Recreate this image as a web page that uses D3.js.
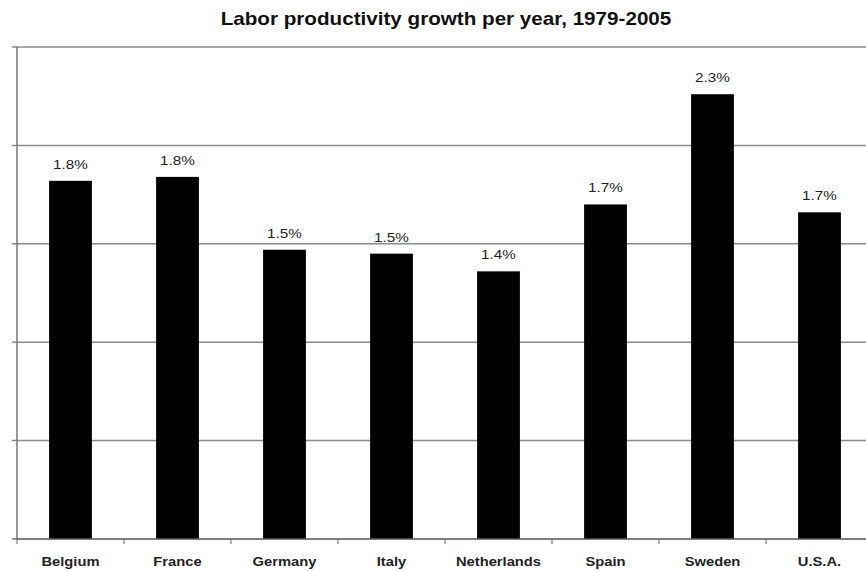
<!DOCTYPE html>
<html>
<head>
<meta charset="utf-8">
<script src="https://cdn.jsdelivr.net/npm/d3@7"></script>
<style>
  body { margin: 0; background: #fff; }
  text { font-family: Arial, "Liberation Sans", sans-serif; }
</style>
</head>
<body>
<div id="chart"></div>
<script>
var width = 866, height = 571;
var countries = ['Belgium', 'France', 'Germany', 'Italy', 'Netherlands', 'Spain', 'Sweden', 'U.S.A.'];
var growth = [1.82, 1.84, 1.47, 1.45, 1.36, 1.70, 2.26, 1.66];
var labels = ['1.8%', '1.8%', '1.5%', '1.5%', '1.4%', '1.7%', '2.3%', '1.7%'];
var yTicks = [0, 0.5, 1, 1.5, 2, 2.5];

var svg = d3.select('#chart')
  .append('svg')
  .attr('width', width)
  .attr('height', height);

var xScale = d3.scaleBand()
  .domain(countries)
  .range([17, 873])
  .paddingInner(0.6)
  .paddingOuter(0.3);

var yScale = d3.scaleLinear()
  .domain([0, 2.5])
  .range([539, 47]);

// the picture's text is a bit wider than plain Arial
function stretch(x, y, s) {
  return 'translate(' + x + ',' + y + ') scale(' + s + ',1)';
}

// gridlines
svg.selectAll('.grid')
  .data(yTicks.slice(1))
  .enter()
  .append('line')
  .attr('x1', 12)
  .attr('x2', width)
  .attr('y1', function (d) { return yScale(d); })
  .attr('y2', function (d) { return yScale(d); })
  .attr('stroke', '#8a8a8a')
  .attr('stroke-width', 1.5);

// y axis line + ticks
svg.append('line')
  .attr('x1', 17).attr('x2', 17)
  .attr('y1', yScale(2.5)).attr('y2', yScale(0))
  .attr('stroke', '#777')
  .attr('stroke-width', 1.5);

svg.append('line')
  .attr('x1', 12).attr('x2', 17)
  .attr('y1', yScale(0)).attr('y2', yScale(0))
  .attr('stroke', '#777')
  .attr('stroke-width', 1.5);

// bars
svg.selectAll('.bar')
  .data(countries)
  .enter()
  .append('rect')
  .attr('x', function (d) { return xScale(d); })
  .attr('y', function (d, i) { return yScale(growth[i]); })
  .attr('width', xScale.bandwidth())
  .attr('height', function (d, i) { return yScale(0) - yScale(growth[i]); })
  .attr('fill', '#000');

// x axis baseline and category ticks
svg.append('line')
  .attr('x1', 17).attr('x2', width)
  .attr('y1', yScale(0)).attr('y2', yScale(0))
  .attr('stroke', '#555')
  .attr('stroke-width', 1.5);

svg.selectAll('.xtick')
  .data(countries)
  .enter()
  .append('line')
  .attr('x1', function (d) { return xScale(d) - xScale.step() * 0.3; })
  .attr('x2', function (d) { return xScale(d) - xScale.step() * 0.3; })
  .attr('y1', yScale(0))
  .attr('y2', yScale(0) + 5)
  .attr('stroke', '#666')
  .attr('stroke-width', 1);

// value labels
svg.selectAll('.val')
  .data(countries)
  .enter()
  .append('text')
  .attr('transform', function (d, i) {
    return stretch(xScale(d) + xScale.bandwidth() / 2, yScale(growth[i]) - 12, 1.13);
  })
  .attr('text-anchor', 'middle')
  .attr('font-size', '13.5px')
  .attr('fill', '#222')
  .text(function (d, i) { return labels[i]; });

// category labels
svg.selectAll('.cat')
  .data(countries)
  .enter()
  .append('text')
  .attr('transform', function (d) {
    return stretch(xScale(d) + xScale.bandwidth() / 2, 566, 1.18);
  })
  .attr('text-anchor', 'middle')
  .attr('font-size', '12.5px')
  .attr('font-weight', 'bold')
  .attr('fill', '#222')
  .text(function (d) { return d; });

svg.append('text')
  .attr('transform', stretch(446, 25, 1.18))
  .attr('text-anchor', 'middle')
  .attr('font-size', '17.5px')
  .attr('font-weight', 'bold')
  .attr('fill', '#111')
  .text('Labor productivity growth per year, 1979-2005');
</script>
</body>
</html>
